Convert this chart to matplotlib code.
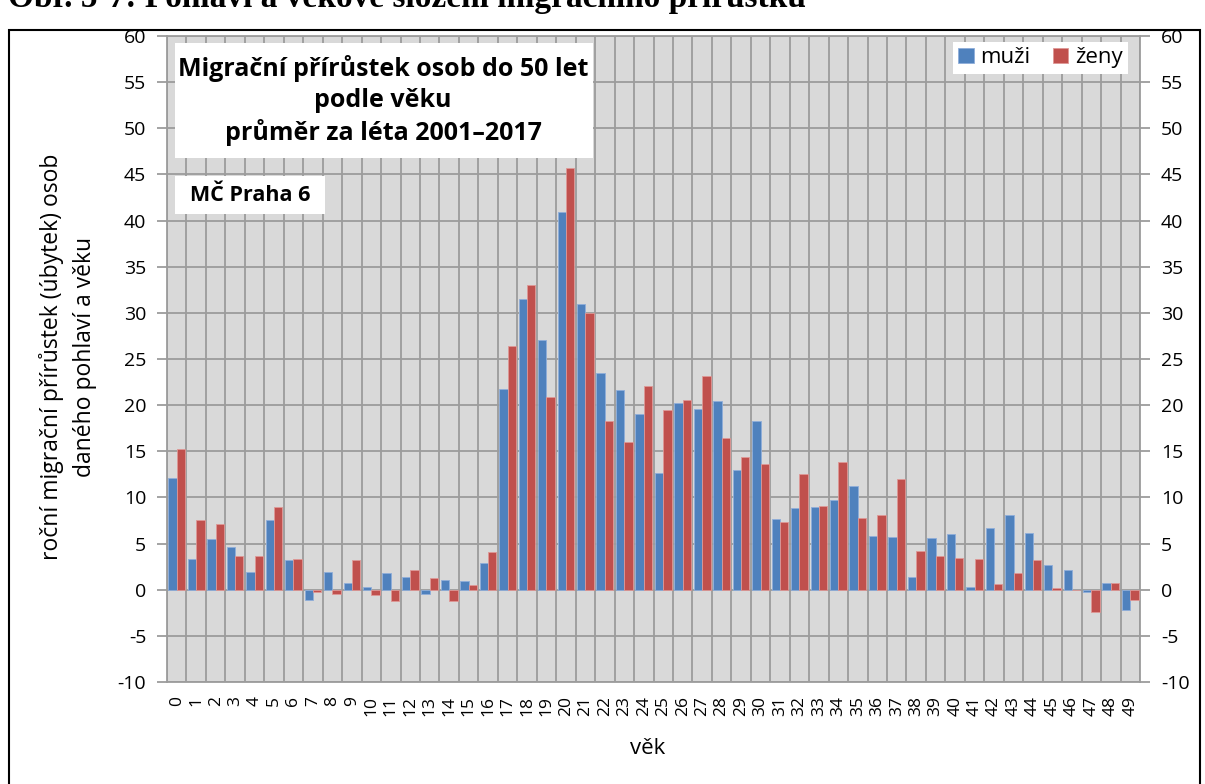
import matplotlib.pyplot as plt
import matplotlib.patches as patches
import numpy as np

plt.rcParams['font.family'] = ['Open Sans', 'DejaVu Sans']
plt.rcParams['axes.unicode_minus'] = False

ages = list(range(50))
muzi = [12.1, 3.3, 5.5, 4.6, 1.9, 7.6, 3.2, -1.1, 1.9, 0.7,
        0.3, 1.8, 1.4, -0.5, 1.0, 0.9, 2.9, 21.8, 31.5, 27.1,
        40.9, 31.0, 23.5, 21.6, 19.0, 12.6, 20.2, 19.6, 20.5, 13.0,
        18.3, 7.7, 8.9, 8.95, 9.7, 11.2, 5.85, 5.7, 1.4, 5.6,
        6.0, 0.25, 6.65, 8.15, 6.1, 2.7, 2.1, -0.2, 0.7, -2.25]
zeny = [15.3, 7.6, 7.1, 3.6, 3.7, 9.0, 3.3, -0.25, -0.5, 3.2,
        -0.6, -1.2, 2.1, 1.3, -1.2, 0.5, 4.1, 26.4, 33.0, 20.9,
        45.7, 30.0, 18.3, 16.0, 22.1, 19.5, 20.6, 23.2, 16.4, 14.4,
        13.6, 7.3, 12.5, 9.1, 13.8, 7.75, 8.15, 12.05, 4.2, 3.7,
        3.4, 3.3, 0.6, 1.8, 3.2, 0.15, 0.0, -2.4, 0.7, -1.16]

blue = '#4F81BD'
red = '#C0504D'
gridc = '#9C9C9C'

fig = plt.figure(figsize=(12.05, 7.84), dpi=100)
ax = fig.add_axes([167/1205, 1-682/784, 973/1205, 646/784])
ax.set_facecolor('#D9D9D9')

x = np.arange(len(ages))
w = 0.43
ax.bar(x - w/2, muzi, width=w, color=blue, edgecolor='#8FAEDA', linewidth=0.6, label='muži', zorder=3)
ax.bar(x + w/2, zeny, width=w, color=red, edgecolor='#DE9896', linewidth=0.6, label='ženy', zorder=3)

ax.set_xlim(-0.5, 49.5)
ax.set_ylim(-10, 60)
ax.set_yticks(range(-10, 61, 5))
ax.set_xticks(x)
ax.set_xticklabels([str(a) for a in ages], rotation=90, fontsize=12.5)
ax.set_xticks(np.arange(-0.5, 50, 1), minor=True)
ax.tick_params(axis='x', which='both', length=0, pad=10)
ax.tick_params(axis='y', labelsize=14, length=7, pad=8, color=gridc, width=1.3,
               labelright=True, right=True)
ax.grid(axis='y', which='major', color=gridc, linewidth=1.3, zorder=0)
ax.grid(axis='x', which='minor', color=gridc, linewidth=1.3, zorder=0)
ax.set_axisbelow(True)
for s in ax.spines.values():
    s.set_color(gridc)
    s.set_linewidth(1.3)

# title boxes
ax.add_patch(patches.Rectangle((0.008, 0.811), 0.43, 0.178, transform=ax.transAxes,
                               facecolor='white', edgecolor='none', zorder=4))
ax.text(0.222, 0.9, 'Migrační přírůstek osob do 50 let\npodle věku\nprůměr za léta 2001–2017',
        transform=ax.transAxes, ha='center', va='center', fontsize=18, fontweight='bold',
        linespacing=1.3, zorder=5)
ax.add_patch(patches.Rectangle((0.008, 0.724), 0.154, 0.059, transform=ax.transAxes,
                               facecolor='white', edgecolor='none', zorder=4))
ax.text(0.085, 0.753, 'MČ Praha 6', transform=ax.transAxes, ha='center', va='center',
        fontsize=15.5, fontweight='bold', zorder=5)

leg = ax.legend(loc='upper right', bbox_to_anchor=(0.988, 0.991), ncol=2, fontsize=16,
                frameon=True, fancybox=False, handlelength=0.7, handleheight=0.7,
                handletextpad=0.3, columnspacing=1.0, borderaxespad=0, borderpad=0.25)
leg.get_frame().set_edgecolor('none')
leg.get_frame().set_facecolor('white')
leg.get_frame().set_alpha(1)
leg.set_zorder(6)

fig.text(68/1205, 0.545, 'roční migrační přírůstek (úbytek) osob\ndaného pohlaví a věku',
         rotation=90, ha='center', va='center', fontsize=16.5, multialignment='center',
         linespacing=1.55)
fig.text(648/1205, 1-748/784, 'věk', ha='center', va='center', fontsize=16)

# outer frame and cut heading
fig.patches.append(patches.Rectangle((9/1205, -0.01), 1191/1205, 1-30/784+0.01,
                                     transform=fig.transFigure, fill=False,
                                     edgecolor='black', linewidth=1.5))
fig.text(8/1205, 1-7/784, 'Obr. 5-7: Pohlaví a věkové složení migračního přírůstku',
         family='Liberation Serif', fontweight='bold', fontsize=24, va='baseline', ha='left')

fig.savefig('out.png', dpi=100)
